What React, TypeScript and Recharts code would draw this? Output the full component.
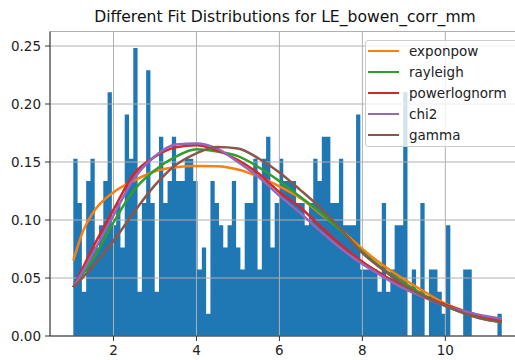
import { Area, CartesianGrid, ComposedChart, Legend, Line, XAxis, YAxis } from "recharts";

const FONT = "'DejaVu Sans', sans-serif";

// raw counts of the 100 equal-width histogram bins
const HIST_MIN = 1.031;
const HIST_MAX = 11.36;
const binCounts = [
  8, 6, 2, 7, 8, 4, 5, 7, 11, 5,
  6, 4, 10, 8, 13, 2, 6, 12, 6, 2,
  9, 6, 7, 9, 7, 7, 8, 8, 7, 3,
  4, 1, 7, 6, 5, 4, 5, 7, 4, 3,
  6, 6, 8, 3, 8, 9, 4, 6, 8, 7,
  7, 7, 6, 6, 5, 6, 8, 7, 9, 9,
  6, 6, 8, 5, 5, 5, 10, 3, 3, 3,
  3, 2, 6, 2, 3, 5, 5, 11, 0, 3,
  2, 6, 0, 3, 3, 2, 1, 5, 0, 0,
  0, 3, 3, 0, 0, 0, 0, 0, 0, 1,
];

// fitted pdfs, sampled along x
const fitX = [1.031, 1.25, 1.5, 2, 2.5, 3, 3.5, 4, 4.5, 5, 5.5, 6, 6.5, 7, 7.5, 8, 8.5, 9, 9.5, 10, 10.5, 11, 11.36];
const exponpow = [0.065, 0.089, 0.106, 0.124, 0.134, 0.142, 0.1455, 0.1466, 0.1463, 0.1435, 0.1374, 0.129, 0.119, 0.105, 0.091, 0.075, 0.061, 0.049, 0.038, 0.028, 0.021, 0.015, 0.012];
const rayleigh = [0.042, 0.053, 0.066, 0.098, 0.126, 0.143, 0.1546, 0.161, 0.159, 0.155, 0.1455, 0.1335, 0.12, 0.106, 0.09, 0.0727, 0.058, 0.046, 0.035, 0.026, 0.019, 0.014, 0.012];
const powerlognorm = [0.042, 0.058, 0.076, 0.109, 0.14, 0.1546, 0.1626, 0.1645, 0.16, 0.1517, 0.14, 0.124, 0.111, 0.094, 0.078, 0.064, 0.0526, 0.042, 0.034, 0.027, 0.021, 0.016, 0.013];
const chi2 = [0.042, 0.055, 0.071, 0.104, 0.136, 0.155, 0.165, 0.166, 0.1615, 0.15, 0.137, 0.121, 0.106, 0.09, 0.075, 0.062, 0.051, 0.041, 0.033, 0.026, 0.021, 0.017, 0.015];
const gamma = [0.042, 0.05, 0.06, 0.082, 0.107, 0.13, 0.1474, 0.1575, 0.163, 0.1617, 0.153, 0.141, 0.126, 0.11, 0.0914, 0.0714, 0.057, 0.044, 0.034, 0.026, 0.019, 0.014, 0.012];

const xTicks = [2, 4, 6, 8, 10];
const yTicks = [0, 0.05, 0.1, 0.15, 0.2, 0.25];
const X_DOMAIN: [number, number] = [0.469, 11.8];
const Y_DOMAIN: [number, number] = [0, 0.2625];

// density=True: count / (total * bin width)
const binWidth = (HIST_MAX - HIST_MIN) / binCounts.length;
const total = binCounts.reduce((a, b) => a + b, 0);
const densities = binCounts.map((count) => count / (total * binWidth));

// one step per bin (left edge), closed off at the right edge of the last bin
const histData = [
  ...densities.map((density, i) => ({ x: HIST_MIN + i * binWidth, density })),
  { x: HIST_MAX, density: densities[densities.length - 1] },
];

const fits = [
  { name: "exponpow", color: "#ff7f0e", values: exponpow },
  { name: "rayleigh", color: "#2ca02c", values: rayleigh },
  { name: "powerlognorm", color: "#d62728", values: powerlognorm },
  { name: "chi2", color: "#9467bd", values: chi2 },
  { name: "gamma", color: "#8c564b", values: gamma },
];

const fitData = fitX.map((x, i) => {
  const row: Record<string, number> = { x };
  fits.forEach((f) => (row[f.name] = f.values[i]));
  return row;
});

const tickStyle = { fill: "#222", fontSize: 13.5, fontFamily: FONT };

// keep the legend in plotting order instead of alphabetical
function FitLegend() {
  return (
    <div
      style={{
        background: "rgba(255,255,255,0.8)",
        border: "1px solid #cccccc",
        borderRadius: 3,
        padding: "0 0 1px 2px",
        width: 170,
        fontFamily: FONT,
      }}
    >
      {fits.map((f) => (
        <div key={f.name} style={{ display: "flex", alignItems: "center", height: 20.8 }}>
          <span style={{ display: "inline-block", width: 31, height: 0, borderTop: `2.4px solid ${f.color}`, marginRight: 10 }} />
          <span style={{ fontSize: 13.5, color: "#222", lineHeight: "20px" }}>{f.name}</span>
        </div>
      ))}
    </div>
  );
}

export default function App() {
  return (
    <div style={{ position: "absolute", left: 0, top: 0, width: 515, height: 360, overflow: "hidden", background: "#fff", fontFamily: FONT }}>
      <div
        style={{
          position: "absolute",
          left: 50,
          width: 470,
          top: 9.8,
          textAlign: "center",
          fontSize: 15.6,
          lineHeight: "15.6px",
          color: "#111",
          whiteSpace: "nowrap",
        }}
      >
        Different Fit Distributions for LE_bowen_corr_mm
      </div>
      <ComposedChart width={530} height={360} data={histData} margin={{ top: 31.5, right: 10, bottom: 0, left: 0 }}>
        <XAxis
          dataKey="x"
          type="number"
          domain={X_DOMAIN}
          ticks={xTicks}
          allowDataOverflow
          height={24}
          tick={tickStyle}
          tickSize={5}
          tickMargin={4}
          axisLine={{ stroke: "#333" }}
          tickLine={{ stroke: "#333" }}
        />
        <YAxis
          type="number"
          domain={Y_DOMAIN}
          ticks={yTicks}
          allowDataOverflow
          width={50}
          tick={tickStyle}
          tickSize={5}
          tickMargin={4}
          tickFormatter={(v: number) => v.toFixed(2)}
          axisLine={{ stroke: "#333" }}
          tickLine={{ stroke: "#333" }}
        />
        <Area
          dataKey="density"
          type="stepAfter"
          baseValue={0}
          fill="#1f77b4"
          fillOpacity={1}
          stroke="none"
          legendType="none"
          activeDot={false}
          isAnimationActive={false}
        />
        <CartesianGrid stroke="#b0b0b0" strokeWidth={1} zIndex={150} />
        {fits.map((f) => (
          <Line
            key={f.name}
            data={fitData}
            dataKey={f.name}
            name={f.name}
            type="monotone"
            stroke={f.color}
            strokeWidth={2.5}
            dot={false}
            activeDot={false}
            isAnimationActive={false}
          />
        ))}
        <Legend
          layout="vertical"
          align="center"
          verticalAlign="middle"
          content={FitLegend}
          wrapperStyle={{ left: 365, top: 40, width: 170 }}
        />
      </ComposedChart>
    </div>
  );
}
